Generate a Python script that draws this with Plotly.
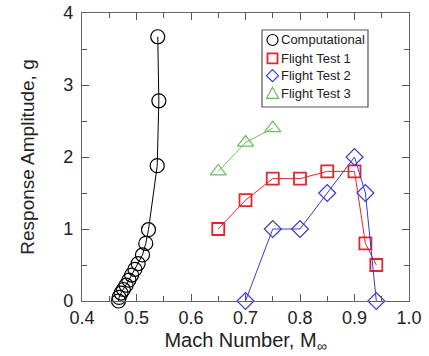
import plotly.graph_objects as go

comp_x = [0.467, 0.468, 0.4716, 0.476, 0.481, 0.486, 0.491, 0.497, 0.503, 0.511, 0.517, 0.522, 0.538, 0.541, 0.539]
comp_y = [0.0, 0.05, 0.11, 0.16, 0.22, 0.29, 0.36, 0.44, 0.52, 0.64, 0.80, 0.99, 1.88, 2.78, 3.67]

ft1_x = [0.65, 0.70, 0.75, 0.80, 0.85, 0.90, 0.92, 0.94]
ft1_y = [1.0, 1.4, 1.7, 1.7, 1.8, 1.8, 0.8, 0.5]

ft2_x = [0.70, 0.75, 0.80, 0.85, 0.90, 0.92, 0.94]
ft2_y = [0.0, 1.0, 1.0, 1.5, 2.0, 1.5, 0.0]

ft3_x = [0.65, 0.70, 0.75]
ft3_y = [1.8, 2.2, 2.4]

series_names = ["Computational", "Flight Test 1", "Flight Test 2", "Flight Test 3"]
series = [
    (series_names[0], comp_x, comp_y, "black", "circle-open", 14, 1.2),
    (series_names[1], ft1_x, ft1_y, "#e3262e", "square-open", 12, 1.8),
    (series_names[2], ft2_x, ft2_y, "#3a3ad0", "diamond-open", 13, 1.2),
    (series_names[3], ft3_x, ft3_y, "#6cbf5a", "triangle-up-open", 14, 1.2),
]

fig = go.Figure()
for name, xs, ys, col, sym, sz, lw in series:
    fig.add_trace(go.Scatter(x=xs, y=ys, mode="lines+markers", name=name, showlegend=False,
                             line=dict(color=col, width=1),
                             marker=dict(symbol=sym, size=sz, color=col, line=dict(width=lw)),
                             cliponaxis=False))

# Manual compact legend (box, symbols, labels) in plot-fraction coordinates
leg_x0, leg_x1, leg_y0, leg_y1 = 0.5505, 0.8746, 0.6736, 0.941
sym_x, txt_x = 0.5826, 0.6024
row_y = [0.9063, 0.8427, 0.7823, 0.7212]
fig.add_shape(type="rect", xref="paper", yref="paper", x0=leg_x0, x1=leg_x1, y0=leg_y0, y1=leg_y1,
              line=dict(color="#555555", width=1.2), fillcolor="white", layer="above")
sym_paths = {
    "circle-open": None,
    "square-open": "M-5,-5 L5,-5 L5,5 L-5,5 Z",
    "diamond-open": "M0,-6 L6,0 L0,6 L-6,0 Z",
    "triangle-up-open": "M0,6 L6,-5 L-6,-5 Z",
}
for (name, xs, ys, col, sym, sz, lw), ry in zip(series, row_y):
    common = dict(xref="paper", yref="paper", xsizemode="pixel", ysizemode="pixel",
                  xanchor=sym_x, yanchor=ry, layer="above",
                  line=dict(color=col, width=lw))
    if sym_paths[sym] is None:
        fig.add_shape(type="circle", x0=-5.5, x1=5.5, y0=-5.5, y1=5.5, **common)
    else:
        fig.add_shape(type="path", path=sym_paths[sym], **common)
    fig.add_annotation(xref="paper", yref="paper", x=txt_x, y=ry, text=name, showarrow=False,
                       xanchor="left", yanchor="middle",
                       font=dict(family="Liberation Sans, Arial, sans-serif", size=13, color="#222222"))

axis_common = dict(showgrid=False, zeroline=False, showline=True, linecolor="#666666", linewidth=1.2,
                   mirror="ticks", ticks="inside", ticklen=7, tickcolor="#555555", tickwidth=1,
                   automargin=False,
                   tickfont=dict(family="Liberation Sans, Arial, sans-serif", size=18, color="#222222"))

fig.update_layout(
    width=429, height=356,
    margin=dict(l=82, r=20, t=13, b=55),
    paper_bgcolor="white", plot_bgcolor="white",
    font=dict(family="Liberation Sans, Arial, sans-serif", color="#222222"),
    xaxis=dict(range=[0.4, 1.0], dtick=0.1, tickformat=".1f",
               minor=dict(dtick=0.05, ticks="inside", ticklen=5, tickcolor="#555555"),
               title=dict(text="Mach Number, M<sub>∞</sub>", font=dict(size=20), standoff=6),
               **axis_common),
    yaxis=dict(range=[0, 4], dtick=1, ticklabelstandoff=4,
               minor=dict(dtick=0.5, ticks="inside", ticklen=5, tickcolor="#555555"),
               title=dict(text="Response Amplitude, g", font=dict(size=19), standoff=23),
               **axis_common),
    showlegend=False,
)

fig.write_html("out.html", config={"displayModeBar": False},
               post_script="document.body.style.margin='0px';")
